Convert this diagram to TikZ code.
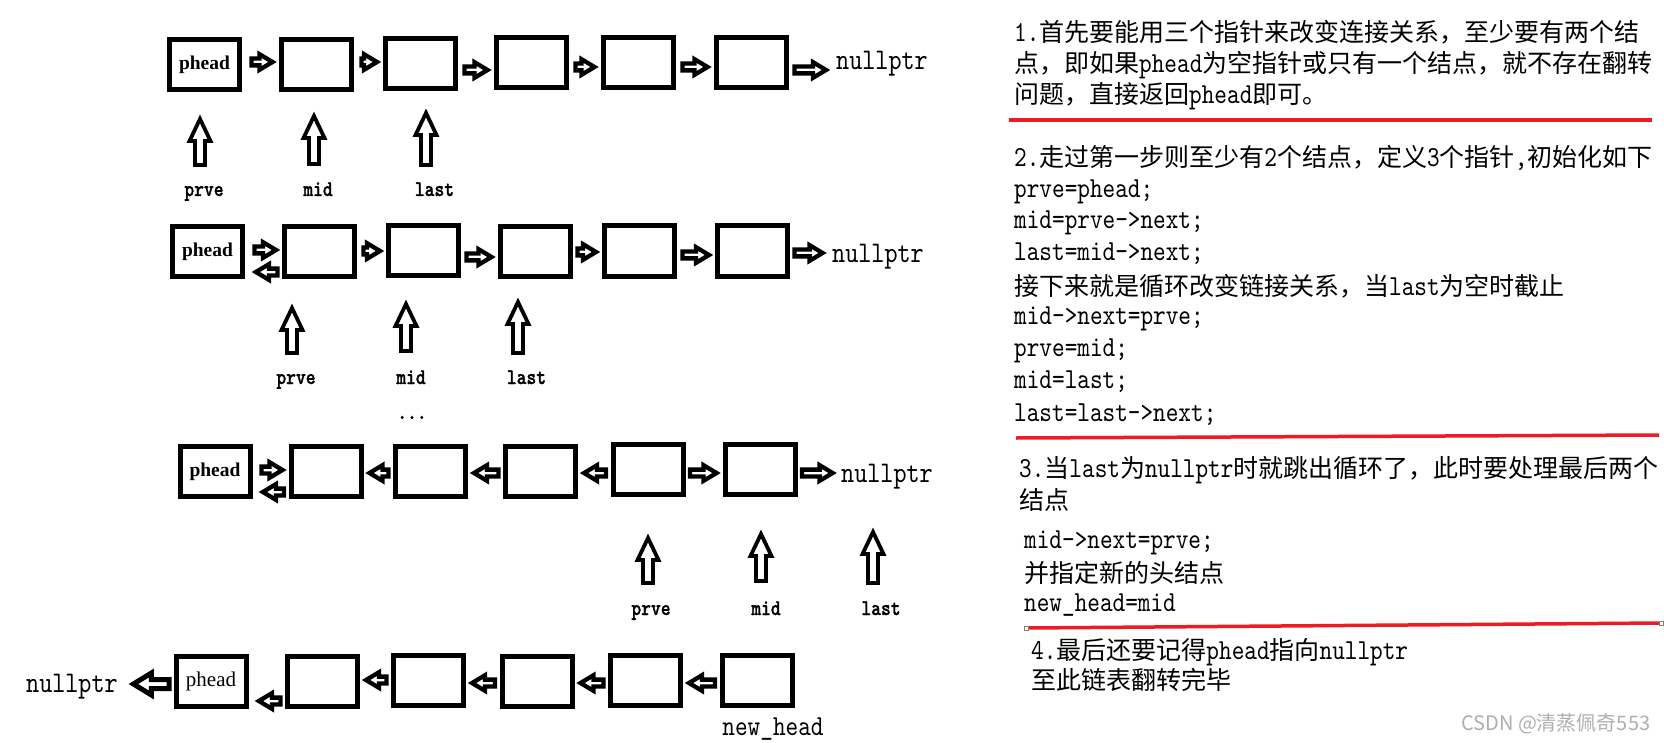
\documentclass[tikz,border=0pt]{standalone}
\usepackage{fontspec}
\newfontfamily\cjkf{Noto Sans CJK SC}
\newfontfamily\latf{lmmono10-regular.otf}[FakeStretch=0.83]
\newfontfamily\latbf{lmmonolt10-bold.otf}[FakeStretch=0.83,FakeBold=1.2]
\newfontfamily\serf{Liberation Serif}
\usetikzlibrary{calc}
\definecolor{redline}{RGB}{237,28,36}
\definecolor{wmgray}{RGB}{175,175,175}
\newcommand\LatTxt[1]{{\fontsize{29}{34}\latf #1}}
\tikzset{
  box/.style={draw, line width=5pt, minimum width=70pt, minimum height=50pt, inner sep=0pt, fill=white},
  fat/.style={draw, line width=4.3pt, fill=white, line join=miter},
  ptr/.style={draw, line width=3.8pt, fill=white, line join=miter},
  shaft/.store in=\fs, headw/.store in=\fh, headl/.store in=\fL,
  shaft=3.4pt, headw=7.8pt, headl=13pt,
  bigfat/.style={line width=5pt, shaft=4.5pt, headw=11pt, headl=18pt},
  txt/.style={anchor=base west, inner sep=0pt, font=\fontsize{25}{30}\cjkf},
  code/.style={anchor=base west, inner sep=0pt, font=\fontsize{29}{34}\latf},
  lab/.style={anchor=base, inner sep=0pt, font=\fontsize{22.5}{26}\latbf},
  nul/.style={anchor=base west, inner sep=0pt, font=\fontsize{30}{34}\latf},
  hd/.style={font=\fontsize{19.5}{22}\serf\bfseries},
  hdr/.style={font=\fontsize{21}{24}\serf},
  redl/.style={draw=redline, line width=3.5pt},
  wmk/.style={anchor=base west, inner sep=0pt, text=wmgray, font=\fontsize{20}{24}\cjkf},
  handle/.style={draw=gray, line width=0.8pt, fill=white},
}
% fat block arrow: #2 tail point, #3 tip point (only x of tip is used)
\newcommand\fatar[3][]{%
  \draw[fat,#1] let \p1=#2, \p2=#3, \n1={ifthenelse(\x2>\x1,1,-1)} in
  (\x1,\y1+\fs) -- (\x2-\n1*\fL,\y1+\fs) -- (\x2-\n1*\fL,\y1+\fh) -- (\x2,\y1)
  -- (\x2-\n1*\fL,\y1-\fh) -- (\x2-\n1*\fL,\y1-\fs) -- (\x1,\y1-\fs) -- cycle;}
% upward pointer arrow: #1 bottom coordinate, #2 tip coordinate
\newcommand\uparr[2]{%
  \draw[ptr] let \p1=(#1), \p2=(#2) in
  (\x1-5pt,\y1) -- (\x1-5pt,\y2-22pt) -- (\x1-10.5pt,\y2-22pt) -- (\x2,\y2)
  -- (\x1+10.5pt,\y2-22pt) -- (\x1+5pt,\y2-22pt) -- (\x1+5pt,\y1) -- cycle;}
\begin{document}
\begin{tikzpicture}[x=1pt,y=-1pt]
\useasboundingbox (0,0) rectangle (1664,743);
\fill[white] (0,0) rectangle (1664,743);

% ---------- row 1 ----------
\node[box,hd] (r1b1) at (204.5,64.5) {phead};
\node[box] (r1b2) at (316,64.5) {};
\node[box] (r1b3) at (420.5,63.5) {};
\node[box] (r1b4) at (531,63) {};
\node[box] (r1b5) at (638,63) {};
\node[box] (r1b6) at (751,63) {};
\node[nul] (r1n) at (836,70) {nullptr};
\fatar{([xshift=9.5pt,yshift=2.5pt]r1b1.east)}{([xshift=-6pt]r1b2.west)}
\fatar{([xshift=8pt,yshift=2.5pt]r1b2.east)}{([xshift=-6pt]r1b3.west)}
\fatar{([xshift=6.5pt,yshift=-6.5pt]r1b3.east)}{([xshift=-6pt]r1b4.west)}
\fatar{([xshift=7pt,yshift=-4pt]r1b4.east)}{([xshift=-6pt]r1b5.west)}
\fatar{([xshift=7pt,yshift=-4pt]r1b5.east)}{([xshift=-6pt]r1b6.west)}
\fatar{([xshift=6pt,yshift=-7pt]r1b6.east)}{([xshift=-10pt]r1n.west)}
\coordinate (r1pb) at (200,165); \coordinate (r1pt) at (200,119);
\coordinate (r1mb) at (314,164); \coordinate (r1mt) at (314,116);
\coordinate (r1lb) at (426,165); \coordinate (r1lt) at (426,113);
\uparr{r1pb}{r1pt}
\uparr{r1mb}{r1mt}
\uparr{r1lb}{r1lt}
\node[lab] (r1p) at (204,196) {prve};
\node[lab] (r1m) at (318,196) {mid};
\node[lab] (r1l) at (434.5,196) {last};

% ---------- row 2 ----------
\node[box,hd] (r2b1) at (207.5,251.5) {phead};
\node[box] (r2b2) at (319.5,251.5) {};
\node[box] (r2b3) at (423.5,250.5) {};
\node[box] (r2b4) at (535,251.5) {};
\node[box] (r2b5) at (639.5,251) {};
\node[box] (r2b6) at (752.5,251) {};
\node[nul] (r2n) at (832,262) {nullptr};
\fatar{([xshift=9.5pt,yshift=1.5pt]r2b1.east)}{([xshift=-6pt]r2b2.west)}
\fatar{([xshift=-4.5pt,yshift=-20.5pt]r2b2.west)}{([xshift=10.9pt]r2b1.east)}
\fatar{([xshift=6.5pt,yshift=0.5pt]r2b2.east)}{([xshift=-6pt]r2b3.west)}
\fatar{([xshift=5.5pt,yshift=-6.5pt]r2b3.east)}{([xshift=-6pt]r2b4.west)}
\fatar{([xshift=5pt,yshift=-0.5pt]r2b4.east)}{([xshift=-6pt]r2b5.west)}
\fatar{([xshift=5.5pt,yshift=-4pt]r2b5.east)}{([xshift=-6pt]r2b6.west)}
\fatar{([xshift=4.5pt,yshift=-2pt]r2b6.east)}{([xshift=-9.4pt]r2n.west)}
\coordinate (r2pb) at (292,353); \coordinate (r2pt) at (292,308);
\coordinate (r2mb) at (406,351); \coordinate (r2mt) at (406,304);
\coordinate (r2lb) at (518,353); \coordinate (r2lt) at (518,302);
\uparr{r2pb}{r2pt}
\uparr{r2mb}{r2mt}
\uparr{r2lb}{r2lt}
\node[lab] (r2p) at (296,384) {prve};
\node[lab] (r2m) at (411,384) {mid};
\node[lab] (r2l) at (526.5,384) {last};
\node[lab] (dots) at (412,419) {...};

% ---------- row 3 ----------
\node[box,hd] (r3b1) at (215,471.5) {phead};
\node[box] (r3b2) at (326,471.5) {};
\node[box] (r3b3) at (430.5,471) {};
\node[box] (r3b4) at (540.5,471) {};
\node[box] (r3b5) at (648,469.5) {};
\node[box] (r3b6) at (760,469.5) {};
\node[nul] (r3n) at (841,482) {nullptr};
\fatar{([xshift=9pt,yshift=1.5pt]r3b1.east)}{([xshift=-6pt]r3b2.west)}
\fatar{([xshift=-4.5pt,yshift=-20.5pt]r3b2.west)}{([xshift=10.4pt]r3b1.east)}
\fatar{([xshift=-4.5pt,yshift=-2pt]r3b3.west)}{([xshift=6pt]r3b2.east)}
\fatar{([xshift=-4.5pt,yshift=-2pt]r3b4.west)}{([xshift=6pt]r3b3.east)}
\fatar{([xshift=-4.5pt,yshift=-3.5pt]r3b5.west)}{([xshift=6pt]r3b4.east)}
\fatar{([xshift=4.5pt,yshift=-3.5pt]r3b5.east)}{([xshift=-6pt]r3b6.west)}
\fatar{([xshift=4.5pt,yshift=-3.5pt]r3b6.east)}{([xshift=-8.4pt]r3n.west)}
\coordinate (r3pb) at (648,583); \coordinate (r3pt) at (648,538);
\coordinate (r3mb) at (761,581); \coordinate (r3mt) at (761,534);
\coordinate (r3lb) at (873,583); \coordinate (r3lt) at (873,532);
\uparr{r3pb}{r3pt}
\uparr{r3mb}{r3mt}
\uparr{r3lb}{r3lt}
\node[lab] (r3p) at (651,615) {prve};
\node[lab] (r3m) at (766,615) {mid};
\node[lab] (r3l) at (881,615) {last};

% ---------- row 4 ----------
\node[box,hdr] (r4b1) at (211,681) {phead};
\node[box] (r4b2) at (322.5,681) {};
\node[box] (r4b3) at (428.5,680.5) {};
\node[box] (r4b4) at (537,681) {};
\node[box] (r4b5) at (645.5,680) {};
\node[box] (r4b6) at (757,680) {};
\node[nul] (r4n) at (26,692) {nullptr};
\node[anchor=base, inner sep=0pt, font=\fontsize{29}{34}\latf] (nh) at (773,735) {new\_head};
\fatar[bigfat]{([xshift=-4.5pt,yshift=-3pt]r4b1.west)}{([xshift=15.5pt]r4n.east)}
\fatar{([xshift=-4.5pt,yshift=-20pt]r4b2.west)}{([xshift=10.4pt]r4b1.east)}
\fatar{([xshift=-4.5pt,yshift=0.5pt]r4b3.west)}{([xshift=6pt]r4b2.east)}
\fatar{([xshift=-4.5pt,yshift=-2pt]r4b4.west)}{([xshift=6pt]r4b3.east)}
\fatar{([xshift=-4.5pt,yshift=-3pt]r4b5.west)}{([xshift=6pt]r4b4.east)}
\fatar{([xshift=-4.5pt,yshift=-3pt]r4b6.west)}{([xshift=6pt]r4b5.east)}

% ---------- right panel ----------
\node[txt] (t1) at (1014,42) {\LatTxt{1.}首先要能用三个指针来改变连接关系，至少要有两个结};
\node[txt] (t2) at (1014,72.5) {点，即如果\LatTxt{phead}为空指针或只有一个结点，就不存在翻转};
\node[txt] (t3) at (1014,103.5) {问题，直接返回\LatTxt{phead}即可。};
\draw[redl] (1009,120) -- (1652,120);
\node[txt] (t4) at (1014,166.5) {\LatTxt{2.}走过第一步则至少有\LatTxt{2}个结点，定义\LatTxt{3}个指针\LatTxt{,}初始化如下};
\node[code] (c1) at (1014,198) {prve=phead;};
\node[code] (c2) at (1014,229) {mid=prve->next;};
\node[code] (c3) at (1014,261) {last=mid->next;};
\node[txt] (t5) at (1014,295.5) {接下来就是循环改变链接关系，当\LatTxt{last}为空时截止};
\node[code] (c4) at (1014,324) {mid->next=prve;};
\node[code] (c5) at (1014,356) {prve=mid;};
\node[code] (c6) at (1014,388) {mid=last;};
\node[code] (c7) at (1014,421) {last=last->next;};
\draw[redl] (1016,438) -- (1659,435);
\node[txt] (t6) at (1019,477.5) {\LatTxt{3.}当\LatTxt{last}为\LatTxt{nullptr}时就跳出循环了，此时要处理最后两个};
\node[txt] (t7) at (1019,509.5) {结点};
\node[code] (c8) at (1024,548) {mid->next=prve;};
\node[txt] (t8) at (1024,582.5) {并指定新的头结点};
\node[code] (c9) at (1024,611) {new\_head=mid};
\draw[redl] (1027,628) -- (1661,623);
\draw[handle] (1024,626) rectangle (1028,630);
\draw[handle] (1659.5,621) rectangle (1663.5,625);
\node[txt] (t9) at (1031,659.5) {\LatTxt{4.}最后还要记得\LatTxt{phead}指向\LatTxt{nullptr}};
\node[txt] (t10) at (1031,689.5) {至此链表翻转完毕};
\node[wmk] (wm) at (1461,730) {CSDN @清蒸佩奇553};
\end{tikzpicture}
\end{document}
